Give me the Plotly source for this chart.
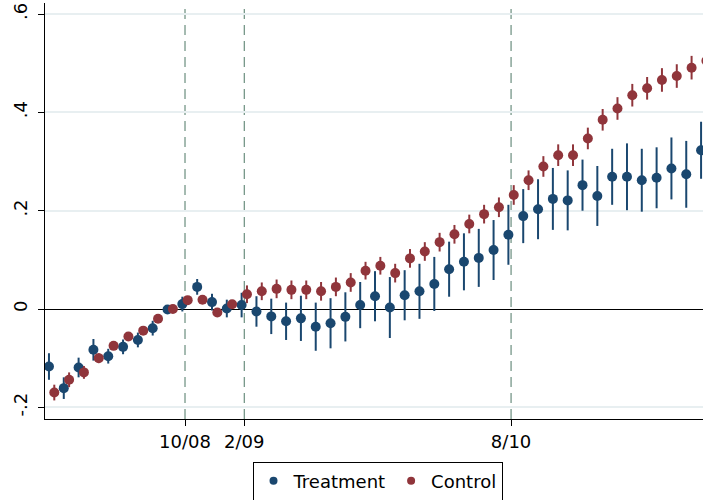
import plotly.graph_objects as go

# Month index relative to 10/08 (= 0)
months = list(range(-9, 36))

treatment = [-0.117, -0.161, -0.119, -0.083, -0.096, -0.077, -0.063, -0.039, -0.001, 0.010,
             0.045, 0.014, 0.001, 0.008, -0.005, -0.015, -0.025, -0.019, -0.036, -0.029,
             -0.016, 0.008, 0.026, 0.003, 0.028, 0.036, 0.051, 0.081, 0.096, 0.104,
             0.120, 0.151, 0.189, 0.203, 0.224, 0.221, 0.252, 0.230, 0.269, 0.269,
             0.262, 0.267, 0.286, 0.274, 0.323]
treatment_ci = [0.027, 0.022, 0.020, 0.022, 0.015, 0.015, 0.015, 0.015, 0.0, 0.015,
                0.016, 0.017, 0.018, 0.025, 0.031, 0.036, 0.038, 0.046, 0.049, 0.051,
                0.050, 0.047, 0.051, 0.062, 0.051, 0.056, 0.055, 0.056, 0.058, 0.059,
                0.061, 0.061, 0.055, 0.061, 0.063, 0.061, 0.052, 0.061, 0.057, 0.068,
                0.064, 0.062, 0.063, 0.068, 0.058]

control = [-0.170, -0.144, -0.129, -0.100, -0.075, -0.056, -0.044, -0.020, 0.000, 0.018,
           0.019, -0.007, 0.0095, 0.030, 0.036, 0.041, 0.039, 0.039, 0.036, 0.045,
           0.054, 0.078, 0.088, 0.073, 0.103, 0.117, 0.136, 0.152, 0.173, 0.193,
           0.207, 0.232, 0.262, 0.290, 0.313, 0.313, 0.347, 0.385, 0.408, 0.435,
           0.449, 0.466, 0.474, 0.491, 0.505]
control_ci = [0.016, 0.015, 0.013, 0.010, 0.008, 0.008, 0.006, 0.005, 0.0, 0.004,
              0.004, 0.004, 0.005, 0.018, 0.018, 0.019, 0.019, 0.019, 0.019, 0.019,
              0.019, 0.018, 0.018, 0.019, 0.019, 0.019, 0.019, 0.019, 0.019, 0.019,
              0.020, 0.020, 0.020, 0.021, 0.022, 0.022, 0.022, 0.022, 0.023, 0.023,
              0.023, 0.024, 0.024, 0.024, 0.025]

event_months = [0, 4, 22]
tick_vals = [0, 4, 22]
tick_text = ["10/08", "2/09", "8/10"]
y_tick_vals = [-0.2, 0, 0.2, 0.4, 0.6]
y_tick_text = ["-.2", "0", ".2", ".4", ".6"]

NAVY = "#1a476f"
MAROON = "#90353b"
offset = 0.18

fig = go.Figure()
fig.add_trace(go.Scatter(
    x=[m - offset for m in months], y=treatment, mode="markers",
    marker=dict(color=NAVY, size=10, line=dict(width=0)),
    error_y=dict(type="data", array=treatment_ci, color=NAVY, thickness=2, width=0),
    showlegend=False, name="Treatment"))
fig.add_trace(go.Scatter(
    x=[m + offset for m in months], y=control, mode="markers",
    marker=dict(color=MAROON, size=10, line=dict(width=0)),
    error_y=dict(type="data", array=control_ci, color=MAROON, thickness=2, width=0),
    showlegend=False, name="Control"))
# legend entries
fig.add_trace(go.Scatter(x=[None], y=[None], mode="markers", name="Treatment",
                         marker=dict(color=NAVY, size=8)))
fig.add_trace(go.Scatter(x=[None], y=[None], mode="markers", name="Control",
                         marker=dict(color=MAROON, size=8)))

for m in event_months:
    fig.add_shape(type="line", xref="x", yref="paper", x0=m, x1=m, y0=0, y1=1,
                  line=dict(color="#6b8e7f", width=1.2, dash="10px,6px"), layer="below")

fig.update_layout(
    width=703, height=500,
    margin=dict(l=45, r=0, t=3, b=81, autoexpand=False),
    paper_bgcolor="white", plot_bgcolor="white",
    font=dict(family="DejaVu Sans", size=18, color="black"),
    legend=dict(orientation="h", xref="container", yref="container",
                x=0.537, xanchor="center", y=0.077, yanchor="top",
                bordercolor="black", borderwidth=1, font=dict(size=18),
                itemwidth=30, tracegroupgap=0),
    xaxis=dict(range=[-9.447, 34.95], tickvals=tick_vals, ticktext=tick_text,
               showgrid=False, zeroline=False, showline=True, linecolor="black",
               linewidth=1.2, ticks="outside", ticklen=6, tickcolor="black",
               tickfont=dict(size=18), automargin=False),
    yaxis=dict(range=[-0.2238, 0.6226], tickvals=y_tick_vals, ticktext=y_tick_text,
               showgrid=True, gridcolor="#e8eff1", gridwidth=1.5,
               zeroline=True, zerolinecolor="black", zerolinewidth=1.3,
               showline=True, linecolor="black", linewidth=1.2,
               ticks="outside", ticklen=6, tickcolor="black", tickangle=-90,
               ticklabelstandoff=4,
               tickfont=dict(size=18), automargin=False),
)

fig.write_html("out.html", config={"displayModeBar": False},
               post_script="document.body.style.margin='0';document.body.style.padding='0';")
